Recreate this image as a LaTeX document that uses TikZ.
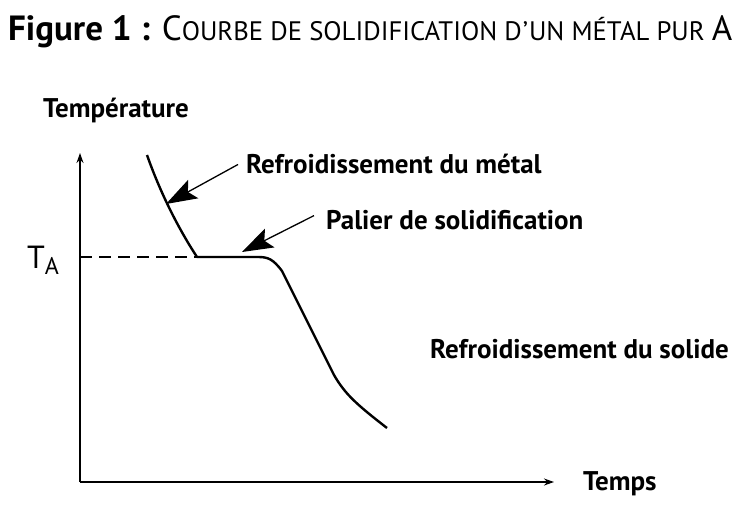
\documentclass[tikz,border=0pt]{standalone}
\usepackage{fontspec}
\setmainfont{PT Sans}
\usetikzlibrary{arrows.meta}
\newcommand{\lbl}{\fontsize{27}{27}\selectfont\bfseries}
\newcommand{\bigc}{\fontsize{35}{35}\selectfont}
\newcommand{\smc}{\fontsize{26.7}{26.7}\selectfont}

\begin{document}
\begin{tikzpicture}[x=1pt,y=-1pt,
    axis/.style={line width=1.3pt,-{Stealth[length=10pt,width=7pt]}},
    pointer/.style={line width=1.3pt,-{Stealth[length=31pt,width=21pt,inset=6pt]}},
    lab/.style={inner sep=0pt,font=\lbl}]
     \useasboundingbox (0,0) rectangle (738,505);
     \node[anchor=base west,inner sep=0pt] (title) at (8,41)
       {\bfseries\bigc Figure 1 : \mdseries C\smc OURBE DE SOLIDIFICATION D\kern1pt'\kern1ptUN MÉTAL PUR \bigc A};
     \coordinate (O) at (80,482);
     \coordinate (ytop) at (80,153);
     \coordinate (xend) at (554,482);
     \draw[axis] (O) -- (ytop);
     \draw[axis] (O) -- (xend);
     \coordinate (fus) at (197,257);
     \coordinate (TAaxis) at (80,257);
     \draw[line width=1.3pt,dash pattern=on 12pt off 7pt] (TAaxis) -- (fus);
     \draw[line width=2.4pt,line join=round]
        (147,155) .. controls (160,192) and (178,228) .. (fus)
        -- (258,257) .. controls (268,257) and (273,259) .. (282,271)
        -- (334,375) .. controls (345,394) and (356,404) .. (387,428);
     \coordinate (tip1) at (166,204);
     \coordinate (tip2) at (242,252);
     \node[lab,anchor=base west] (ref) at (246,174) {Refroidissement du métal};
     \node[lab,anchor=base west] (pal) at (326,229) {Palier de solidification};
     \node[lab,anchor=base west] (sol) at (430,358) {Refroidissement du solide};
     \node[lab,anchor=base west] (temps) at (583,490) {Temps};
     \node[lab,anchor=base west] (temp) at (43,118) {Température};
     \node[inner sep=0pt,anchor=base west,font=\fontsize{32}{32}\selectfont] (TA) at (27,268) {T\raisebox{-6pt}{\fontsize{24}{24}\selectfont A}};
     \draw[pointer] (ref.west) ++(-8,0) coordinate (from1) -- (tip1);
     \draw[pointer] (pal.west) ++(-12,-4) coordinate (from2) -- (tip2);
    \end{tikzpicture}
\end{document}
